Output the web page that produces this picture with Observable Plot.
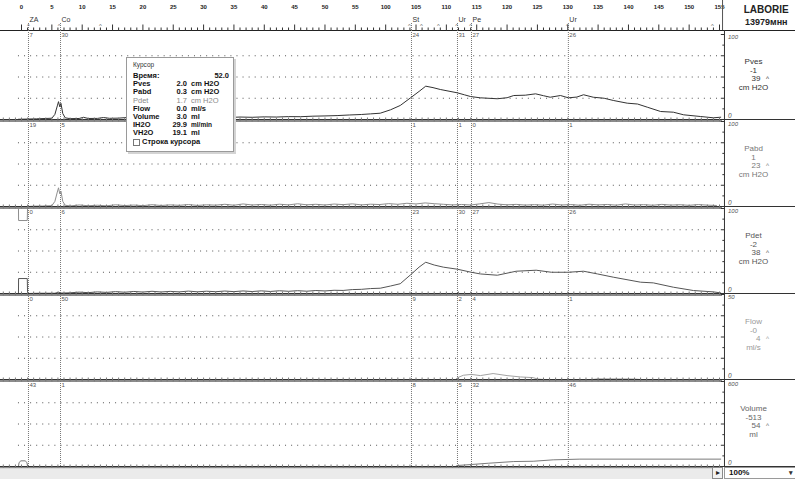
<!DOCTYPE html>
<html><head><meta charset="utf-8">
<script src="https://cdn.jsdelivr.net/npm/d3@7"></script>
<script src="https://cdn.jsdelivr.net/npm/@observablehq/plot@0.6"></script>
<style>
body{margin:0;background:#fff;}
#root{position:relative;width:795px;height:493px;overflow:hidden;font-family:"Liberation Sans",Arial,sans-serif;background:#fff}
#root svg{position:absolute;left:0;overflow:visible;background:transparent}
#tip{position:absolute;left:126px;top:57px;width:106px;height:93px;border:1px solid #9a9a9a;background:#fff;box-shadow:2px 2px 0 #d4d4d4;font-size:7.5px;color:#222}
#tip div{position:absolute;white-space:nowrap;line-height:8px}
#bar{position:absolute;left:0;top:468px;width:712px;height:10px;background:#ebebeb;border-top:1px solid #d8d8d8}
#btn{position:absolute;left:712px;top:467px;width:9px;height:10px;border:1px solid #8a8a8a;background:#f2f2f2;font-size:8px;line-height:10px;text-align:center;color:#222}
#sel{position:absolute;left:724px;top:467px;width:70px;height:10px;border:1px solid #9a9a9a;background:#fff;font-size:8px;font-weight:bold;line-height:10px;color:#111}
</style></head><body><div id="root"></div>
<script>
// ---- data ----
const tickLabels = ["0","5","10","15","20","25","30","35","40","45","50","55","100","105","110","115","120","125","130","135","140","145","150","155"];
const tickTimes = [0,5,10,15,20,25,30,35,40,45,50,55,60,65,70,75,80,85,90,95,100,105,110,115];
const eventT = [1.15, 6.43, 64.25, 71.83, 74.14, 90.1];
const eventNames = ["ZA","Co","St","Ur","Pe","Ur"];
const eventMarkT = [1.15, 6.2, 13.0, 63.9, 65.9, 68.7, 71.7, 74.0, 89.95, 113.85];
const axisCursor = ["7","30","24","31","27","26"];
const pvesCursor = ["19","5","1","1","0","1"];
const pabdCursor = ["0","6","23","30","27","26"];
const pdetCursor = ["0","50","9","2","4","1"];
const flowCursor = ["43","1","8","5","32","46"];

const pves = [[-0.5,0.3],[1,0.5],[2.5,0.8],[4,1.2],[5,1.5],[5.5,6],[5.9,16],[6.1,21],[6.3,15],[6.5,19],[6.8,7],[7.2,2],[8,1],[9.5,1.2],[10.2,2.6],[11,1.2],[12.5,1.3],[13.5,2.3],[14.5,1.4],[16,1.6],[17.5,2.4],[18.5,1.6],[20,1.8],[22,1.6],[24,2.2],[26,1.9],[28,2.4],[30,2.1],[32,2.6],[34,2.3],[36,2.9],[38,2.6],[40,3.1],[42,2.9],[44,3.4],[46,3.3],[48,3.9],[50,4.2],[52,4.6],[54,5.3],[56,5.9],[57.5,6.6],[59.1,7.4],[60.8,11.4],[62.4,16.5],[64.1,25.5],[65.5,33],[66.6,39.2],[67.8,37.5],[69,35.3],[71.8,31.4],[73,29],[74,27],[75.6,25.5],[78.4,24.4],[80,25.6],[81.1,28.2],[83,28.6],[84.7,30.2],[86,28],[87.1,26.2],[88.8,28.2],[90.1,25.5],[91.5,26.4],[92.6,29.1],[94.2,26.2],[96,25],[97.5,22.4],[99.8,19.2],[101.5,18.2],[103.1,14.5],[105.3,9.4],[107.4,8.6],[109.1,5.5],[111.9,3.5],[114,2],[115.2,2.7]];

const pabd = [[-0.5,0],[-0.48,-16.5],[0.95,-16.5],[1.0,0],[2,0.4],[3.5,0.6],[5,1],[5.5,6],[5.9,17],[6.1,22],[6.3,15],[6.5,18],[6.8,6],[7.2,1.5],[8,0.6],[9.5,1.8],[11,0.9],[12.5,1.5],[14,0.8],[15.5,2.0],[17,1.1],[18.5,1.7],[20,1.0],[21.5,2.1],[23,1.2],[24.5,1.9],[26,1.4],[27.5,2.3],[29,1.3],[30.5,2.0],[32,1.6],[33.5,2.6],[35,1.5],[36.5,3.0],[38,1.8],[39.5,2.4],[41,1.6],[42.5,2.7],[44,1.9],[45.5,3.2],[47,2.0],[48.5,2.6],[50,1.8],[51.5,2.9],[53,2.2],[54.5,3.1],[56,1.9],[57.5,2.7],[59,2.3],[60.5,3.4],[62,2.6],[63.5,3.8],[65,3.0],[66.5,4.2],[68,3.3],[69.5,2.6],[71,1.9],[72.5,2.4],[74,1.8],[75.5,3.1],[77,4.6],[78.5,2.8],[80,2.0],[81.5,2.5],[83,1.7],[84.5,2.2],[86,1.6],[87.5,2.9],[89,1.8],[90.5,2.3],[92,1.5],[93.5,2.7],[95,1.9],[96.5,2.4],[98,1.6],[99.5,3.0],[101,1.8],[102.5,2.2],[104,1.5],[105.5,2.5],[107,1.7],[108.5,2.1],[110,1.4],[111.5,2.3],[113,1.6],[114.5,1.2]];

const pdet = [[-0.5,0],[-0.48,17.6],[0.95,17.6],[1.0,0],[3,0.3],[5.5,0.3],[6.1,1.5],[6.5,0.5],[8,0.8],[9.5,1.6],[11,1.0],[12.5,1.9],[14,1.3],[15.5,2.2],[17,1.5],[18.5,2.4],[20,1.7],[21.5,2.6],[23,1.8],[24.5,2.5],[26,1.9],[27.5,2.8],[29,2.0],[30.5,2.7],[32,2.1],[33.5,2.9],[35,2.2],[36.5,3.0],[38,2.3],[39.5,3.1],[41,2.4],[42.5,3.2],[44,2.6],[45.5,3.3],[47,2.7],[48.5,3.5],[50,3.0],[51.5,3.8],[53,3.6],[54.5,4.6],[56,4.9],[57.5,5.8],[59.1,6.2],[60.8,8.8],[62.4,11.5],[64.1,22],[65.5,31],[66.6,36.8],[68,33.5],[69.5,31],[71.8,28.6],[74.1,25],[75.6,23],[78.4,21.5],[81.5,26.2],[84.8,27.4],[87.3,25],[90.1,25],[92.6,26.2],[94.9,23],[97.5,19.2],[102,13.3],[104.1,12.5],[107.4,7.4],[110.7,3.5],[114,1.9],[115.2,0.7]];

const flow = [[-0.5,0],[71.5,0],[71.8,1],[72.8,2.5],[74.1,3],[75.6,2.3],[77.7,3.5],[80,2.3],[82.2,1.5],[84.3,1.1],[85,0.3],[86,0],[94,0],[95,0.4],[101,0.3],[102,0],[115.2,0]];

const volume = [[-0.5,0],[-0.4,28],[-0.1,40],[0.6,40],[0.9,28],[1.0,0],[71.5,0],[71.8,7],[74.1,14],[76.9,23],[81.1,35],[84.3,37],[87.6,47],[92,52],[115.2,52]];

// ---- layout helpers (time units on the shared x scale) ----
const X = {domain:[0,115], range:[21,719], axis:null};
const T_LEFT = -3.46, T_END = 115.5, T_AXIS = 115.82, T_YLAB = 116.4, T_LABEL = 120.6, T_NUM = 121.76, T_CARET = 122.9, T_RIGHT = 127.6;
const FONT = "Liberation Sans, Arial, sans-serif";
const seconds = d3.range(-3, 116);
const root = document.getElementById("root");
function place(svg, top){ svg.style.top = top + "px"; root.appendChild(svg); }

// ---- top time axis ----
{
  const marks = [
    Plot.ruleX(eventT, {y1: 0, y2: 8, stroke: "#777", strokeDasharray: "1,1"}),
    Plot.ruleY([0], {x1: T_LEFT, x2: T_RIGHT, stroke: "#222", strokeWidth: 1}),
    Plot.link(seconds.filter(s => s >= 0), {x1: d => d, x2: d => d, y1: 0, y2: d => d % 5 === 0 ? 6 : 3, stroke: "#333"}),
    Plot.text(tickTimes, {x: d => d, y: 23, text: (d, i) => tickLabels[i], fontSize: 6, fontWeight: "bold", fill: "#222", fontFamily: FONT}),
    Plot.text(eventT, {x: d => d, y: 11, text: (d, i) => eventNames[i], fontSize: 7, fill: "#333", textAnchor: "start", dx: 1, fontFamily: FONT}),
    Plot.text(eventMarkT, {x: d => d, y: 4, text: () => "^", fontSize: 6, fill: "#666", fontFamily: FONT}),
    Plot.text(eventT, {x: d => d, y: -5, text: (d, i) => axisCursor[i], fontSize: 6, fill: "#555", textAnchor: "start", dx: 1, fontFamily: FONT}),
    Plot.ruleX([T_END], {y1: 0, y2: 30, stroke: "#555"}),
    Plot.text(["LABORIE"], {x: 122.7, y: 21, text: d => d, fontSize: 10, fontWeight: "bold", fill: "#222", fontFamily: FONT}),
    Plot.text(["13979мнн"], {x: 122.7, y: 8, text: d => d, fontSize: 9, fontWeight: "bold", fill: "#222", fontFamily: FONT})
  ];
  const svg = Plot.plot({width: 795, height: 31, margin: 0, x: X, y: {domain: [0, 30], range: [30, 0], axis: null},
    style: {background: "transparent", overflow: "visible"}, marks});
  place(svg, 0);
}

// ---- panels ----
const panels = [
  {name: "Pves", data: pves, max: 100, base: 119, color: "#333", label: "#333", cursor: pvesCursor, now: "-1", peak: "39", unit: "cm H2O", top: 1.047},
  {name: "Pabd", data: pabd, max: 100, base: 206, color: "#8e8e8e", label: "#777", cursor: pabdCursor, now: "1", peak: "23", unit: "cm H2O", top: 1.02},
  {name: "Pdet", data: pdet, max: 100, base: 292.5, color: "#555", label: "#555", cursor: pdetCursor, now: "-2", peak: "38", unit: "cm H2O", top: 1.02},
  {name: "Flow", data: flow, max: 50, base: 379, color: "#a3a3a3", label: "#999", cursor: flowCursor, now: "-0", peak: "4", unit: "ml/s", top: 1.02},
  {name: "Volume", data: volume, max: 600, base: 466, color: "#7a7a7a", label: "#666", cursor: null, now: "-513", peak: "54", unit: "ml", top: 1.02}
];

for (const p of panels) {
  const m = p.max, px = m / 85;
  const eighths = [0, 1, 2, 3, 4, 5, 6, 7, 8].map(k => k * m / 8);
  const marks = [
    Plot.ruleY([m * 0.25, m * 0.5, m * 0.75], {x1: -0.5, x2: 115.3, stroke: "#555", strokeDasharray: "1,5.07"}),
    Plot.ruleX(eventT, {y1: 0, y2: m * p.top, stroke: "#777", strokeDasharray: "1,1"}),
    Plot.line(p.data, {x: d => d[0], y: d => d[1], stroke: p.color, strokeWidth: 1}),
    Plot.ruleY([0], {x1: T_LEFT, x2: T_END, stroke: "#8c8c8c", strokeWidth: 2.5, dy: 1.2}),
    Plot.ruleY([0], {x1: T_LEFT, x2: T_RIGHT, stroke: "#333", strokeWidth: 1}),
    Plot.link(seconds, {x1: d => d, x2: d => d, y1: -2 * px, y2: 2 * px, stroke: "#777"}),
    // right scale
    Plot.ruleX([T_AXIS], {y1: 0, y2: m * p.top, stroke: "#333"}),
    Plot.link(eighths, {x1: (d, i) => T_AXIS - (i % 2 === 0 ? 0.6 : 0.35), x2: T_AXIS, y1: d => d, y2: d => d, stroke: "#333"}),
    Plot.text([String(m)], {x: T_YLAB, y: m, dy: 3, text: d => d, fontSize: 6, fontStyle: "italic", fill: "#555", textAnchor: "start", fontFamily: FONT}),
    Plot.text(["0"], {x: T_YLAB, y: 0, dy: -4, text: d => d, fontSize: 6.5, fontStyle: "italic", fill: "#555", textAnchor: "start", fontFamily: FONT}),
    Plot.text([p.name], {x: T_LABEL, y: m * (58 / 85), text: d => d, fontSize: 8, fill: p.label, fontFamily: FONT}),
    Plot.text([p.now], {x: T_LABEL, y: m * (49.3 / 85), text: d => d, fontSize: 8, fill: p.label, fontFamily: FONT}),
    Plot.text([p.peak], {x: T_NUM, y: m * (40.6 / 85), text: d => d, fontSize: 8, fill: p.label, textAnchor: "end", fontFamily: FONT}),
    Plot.text(["^"], {x: T_CARET, y: m * (40.6 / 85), text: d => d, fontSize: 6.5, fill: p.label, fontFamily: FONT}),
    Plot.text([p.unit], {x: T_LABEL, y: m * (31.9 / 85), text: d => d, fontSize: 8, fill: p.label, fontFamily: FONT})
  ];
  if (p.cursor) marks.push(Plot.text(eventT, {x: d => d, y: 0, dy: 6, text: (d, i) => p.cursor[i], fontSize: 6, fill: "#555", textAnchor: "start", dx: 1, fontFamily: FONT}));
  const svg = Plot.plot({width: 795, height: 110, margin: 0, x: X, y: {domain: [0, m], range: [95, 10], axis: null},
    style: {background: "transparent", overflow: "visible"}, marks});
  place(svg, p.base - 95);
}

// ---- cursor window ----
const tipRows = [
  ["Время:", "", "52.0", false],
  ["Pves", "2.0", "cm H2O", false],
  ["Pabd", "0.3", "cm H2O", false],
  ["Pdet", "1.7", "cm H2O", true],
  ["Flow", "0.0", "ml/s", false],
  ["Volume", "3.0", "ml", false],
  ["IH2O", "29.9", "ml/min", false],
  ["VH2O", "19.1", "ml", false]
];
const tip = document.createElement("div");
tip.id = "tip";
let html = '<div style="left:6px;top:3px;font-size:6.5px;color:#333">Курсор</div>';
tipRows.forEach((r, i) => {
  const y = 14 + i * 8.2;
  const col = r[3] ? "#8a8a8a" : "#111";
  const w = r[3] ? "normal" : "bold";
  html += `<div style="left:6px;top:${y}px;font-weight:${w};color:${col}">${r[0]}</div>`;
  if (i === 0) {
    html += `<div style="right:4px;top:${y}px;font-weight:bold;color:${col}">${r[2]}</div>`;
  } else {
    html += `<div style="right:46px;top:${y}px;font-weight:${w};color:${col}">${r[1]}</div>`;
    html += `<div style="left:64px;top:${y}px;font-weight:${w};color:${col};${r[2] === 'ml/min' ? 'font-size:6.5px' : ''}">${r[2]}</div>`;
  }
});
html += '<div style="left:6px;top:81px;width:5px;height:5px;border:1px solid #777;background:#fff"></div>';
html += '<div style="left:15px;top:80px;font-weight:bold;color:#111">Строка курсора</div>';
tip.innerHTML = html;
root.appendChild(tip);

// ---- bottom scroll bar ----
const bar = document.createElement("div"); bar.id = "bar"; root.appendChild(bar);
const btn = document.createElement("div"); btn.id = "btn"; btn.textContent = "▸"; root.appendChild(btn);
const sel = document.createElement("div"); sel.id = "sel";
sel.innerHTML = '<span style="position:absolute;left:4px;top:0">100%</span><span style="position:absolute;right:2px;top:0;font-size:7px;color:#333">▾</span>';
root.appendChild(sel);
</script>
</body></html>
